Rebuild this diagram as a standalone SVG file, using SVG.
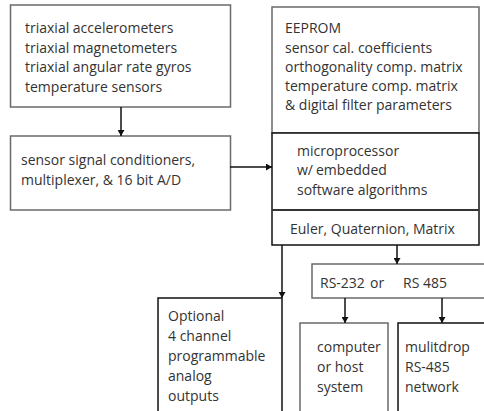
<svg xmlns="http://www.w3.org/2000/svg" width="484" height="411" viewBox="0 0 484 411">
<defs>
<marker id="ah" markerWidth="6" markerHeight="7" refX="6" refY="3.5" orient="auto" markerUnits="userSpaceOnUse">
<path d="M0,0 L6,3.5 L0,7 Z" fill="#111"/>
</marker>
<style>
text{font-family:"Open Sans","Noto Sans","DejaVu Sans",sans-serif;font-size:14px;fill:#333}
.g{fill:#fff;stroke:#6a6a6a;stroke-width:1.5}
.k{fill:#fff;stroke:#111;stroke-width:1.5}
.c{stroke:#111;stroke-width:1.5;fill:none}
</style>
</defs>
<rect width="484" height="411" fill="#fff"/>
<g id="sensors">
<rect class="g" x="10.5" y="5" width="220" height="102"/>
<text x="25" y="33">triaxial accelerometers</text>
<text x="25" y="52.5">triaxial magnetometers</text>
<text x="25" y="72">triaxial angular rate gyros</text>
<text x="25" y="91.5">temperature sensors</text>
</g>
<g id="conditioners">
<rect class="g" x="10.5" y="136" width="220" height="74"/>
<text x="21" y="165">sensor signal conditioners,</text>
<text x="21" y="185">multiplexer, &amp; 16 bit A/D</text>
</g>
<g id="eeprom">
<rect class="g" x="272" y="7" width="207" height="126"/>
<text x="285" y="33">EEPROM</text>
<text x="285" y="53">sensor cal. coefficients</text>
<text x="285" y="72">orthogonality comp. matrix</text>
<text x="285" y="91">temperature comp. matrix</text>
<text x="285" y="110">&amp; digital filter parameters</text>
</g>
<g id="microprocessor">
<rect class="k" x="272" y="133" width="207" height="112"/>
<line x1="272" y1="210" x2="479" y2="210" stroke="#333" stroke-width="2"/>
<text x="297" y="156">microprocessor</text>
<text x="297" y="175">w/<tspan x="316">embedded</tspan></text>
<text x="297" y="195">software algorithms</text>
<text x="290" y="234">Euler, Quaternion, Matrix</text>
</g>
<g id="rs">
<rect class="g" x="312" y="264" width="180" height="34"/>
<text x="320" y="288">RS-232<tspan x="370">or</tspan><tspan x="403">RS 485</tspan></text>
</g>
<g id="optional">
<rect class="k" x="158" y="298" width="124" height="130"/>
<text x="168" y="321">Optional</text>
<text x="168" y="341">4 channel</text>
<text x="168" y="361">programmable</text>
<text x="168" y="381">analog</text>
<text x="168" y="401">outputs</text>
</g>
<g id="computer">
<rect class="g" x="300" y="323" width="88" height="110"/>
<text x="317" y="352">computer</text>
<text x="317" y="372">or host</text>
<text x="317" y="392">system</text>
</g>
<g id="multidrop">
<rect class="k" x="398" y="323" width="100" height="110"/>
<text x="405" y="352">mulitdrop</text>
<text x="405" y="372">RS-485</text>
<text x="405" y="392">network</text>
</g>
<g id="connectors">
<line class="c" x1="121" y1="107" x2="121" y2="136" marker-end="url(#ah)"/>
<line class="c" x1="230" y1="167" x2="272" y2="167" marker-end="url(#ah)"/>
<line class="c" x1="282" y1="245" x2="282" y2="298" marker-end="url(#ah)"/>
<line class="c" x1="397" y1="245" x2="397" y2="264" marker-end="url(#ah)"/>
<line class="c" x1="345" y1="298" x2="345" y2="323" marker-end="url(#ah)"/>
<line class="c" x1="442" y1="298" x2="442" y2="323" marker-end="url(#ah)"/>
</g>
</svg>
